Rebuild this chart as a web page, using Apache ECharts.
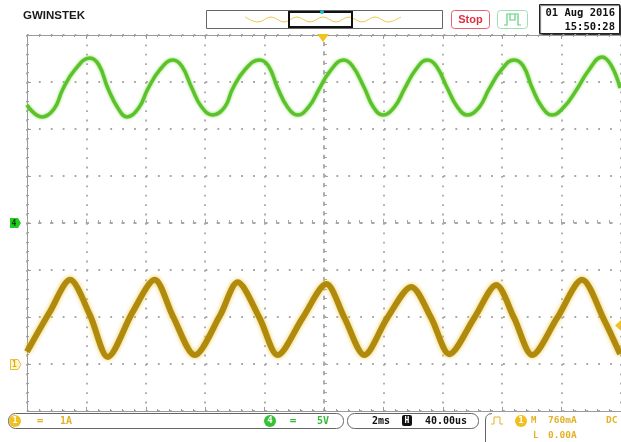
<!DOCTYPE html>
<html><head><meta charset="utf-8">
<script src="https://cdn.jsdelivr.net/npm/echarts@6/dist/echarts.min.js"></script>
<style>html,body{margin:0;padding:0;background:#fff}#c{width:621px;height:442px}</style>
</head><body><div id="c"></div>
<script>
// Channel 4 (green, 5 V/div) - time in ms, value in V
const ch4Time = [-10.00,-9.50,-9.09,-8.79,-8.39,-7.88,-7.58,-7.28,-6.94,-6.64,-6.24,-5.93,-5.53,-5.09,-4.79,-4.45,-4.12,-3.75,-3.34,-3.08,-2.67,-2.17,-1.87,-1.56,-1.23,-0.89,-0.49,-0.18,0.18,0.66,0.96,1.36,1.66,1.97,2.37,2.71,3.08,3.48,3.78,4.15,4.49,4.82,5.23,5.56,5.97,6.40,6.71,7.01,7.34,7.68,8.08,8.52,8.92,9.36,9.66,9.97];
const ch4Volts = [12.55,11.28,12.13,14.26,16.28,17.55,16.81,14.36,12.23,11.28,12.23,14.26,16.28,17.34,16.70,14.36,12.34,11.49,12.34,14.26,16.28,17.34,16.70,14.36,12.34,11.49,12.45,14.15,16.06,17.34,16.70,14.36,12.34,11.49,12.34,14.26,16.28,17.34,16.70,14.36,12.34,11.49,12.34,14.26,16.28,17.34,16.70,14.36,12.34,11.49,12.34,14.26,16.28,17.66,16.81,14.36];
// Channel 1 (yellow, 1 A/div) - time in ms, value in A
const ch1Time = [-10.00,-9.23,-8.55,-7.88,-7.28,-6.44,-5.70,-5.09,-4.35,-3.51,-2.91,-2.17,-1.56,-0.72,0.08,0.69,1.36,2.13,2.94,3.61,4.22,5.06,5.80,6.40,7.01,7.85,8.69,9.43,9.97];
const ch1Amps = [0.26,1.11,1.79,1.04,0.15,1.11,1.79,1.02,0.19,1.02,1.74,0.98,0.19,0.98,1.70,0.98,0.19,0.98,1.64,0.98,0.21,0.98,1.68,0.98,0.19,0.98,1.79,0.94,0.21];
// Scale settings
const timePerDiv = 2;      // ms
const ch4PerDiv = 5;       // V
const ch1PerDiv = 1;       // A

const ch4Data = ch4Time.map((t, i) => [t, ch4Volts[i]]);
const ch1Data = ch1Time.map((t, i) => [t, ch1Amps[i]]);

const gridDot = '#a6a6a6';
const border = '#9a9a9a';
const yel = '#e3b22a';
const grn = '#38b838';
const mono = '"DejaVu Sans Mono", monospace';

function borderAxis(extra) {
  return Object.assign({
    type: 'value',
    axisLine: { show: true, onZero: false, lineStyle: { color: border, width: 1 } },
    axisTick: { show: true, inside: true, length: 4, lineStyle: { color: border } },
    minorTick: { show: true, splitNumber: 5, length: 2, lineStyle: { color: border } },
    axisLabel: { show: false },
    splitLine: { show: false }
  }, extra);
}
function centerAxis(extra, dash) {
  return Object.assign({
    type: 'value',
    axisLine: { show: true, onZero: true, onZeroAxisIndex: 0, lineStyle: { color: gridDot, width: 1.8, type: dash } },
    axisTick: { show: true, inside: true, length: 4, lineStyle: { color: gridDot } },
    minorTick: { show: true, splitNumber: 5, length: 3, lineStyle: { color: gridDot } },
    axisLabel: { show: false },
    splitLine: { show: false }
  }, extra);
}

const chart = echarts.init(document.getElementById('c'), null, { renderer: 'canvas' });
chart.setOption({
  animation: false,
  backgroundColor: '#fff',
  grid: { left: 27, top: 35, width: 594, height: 376, outerBoundsMode: 'none', containLabel: false },
  xAxis: [
    borderAxis({ position: 'bottom', min: -5 * timePerDiv, max: 5 * timePerDiv, interval: timePerDiv,
      splitLine: { show: true, lineStyle: { color: gridDot, width: 1.8, type: [1.8, 7.6] } } }),
    borderAxis({ position: 'top', min: -5 * timePerDiv, max: 5 * timePerDiv, interval: timePerDiv }),
    centerAxis({ position: 'bottom', min: -5 * timePerDiv, max: 5 * timePerDiv, interval: timePerDiv }, [1.8, 10.1])
  ],
  yAxis: [
    borderAxis({ position: 'left', min: -4 * ch4PerDiv, max: 4 * ch4PerDiv, interval: ch4PerDiv,
      splitLine: { show: true, lineStyle: { color: gridDot, width: 1.8, type: [1.8, 10.1] } } }),
    { type: 'value', show: false, min: -1 * ch1PerDiv, max: 7 * ch1PerDiv, interval: ch1PerDiv, splitLine: { show: false } },
    centerAxis({ position: 'left', min: -4 * ch4PerDiv, max: 4 * ch4PerDiv, interval: ch4PerDiv }, [1.8, 7.6])
  ],
  series: [
    { type: 'line', name: 'CH4', xAxisIndex: 0, yAxisIndex: 0, data: ch4Data, showSymbol: false, smooth: 0.45,
      lineStyle: { color: '#5cc22c', width: 3.5, shadowColor: 'rgba(130,215,80,0.95)', shadowBlur: 3 }, z: 5 },
    { type: 'line', name: 'CH1', xAxisIndex: 0, yAxisIndex: 1, data: ch1Data, showSymbol: false, smooth: 0.3,
      lineStyle: { color: '#b08a0c', width: 6, shadowColor: 'rgba(235,200,70,0.95)', shadowBlur: 4 }, z: 6 }
  ],
  graphic: [
    // header
    { type: 'text', style: { text: 'GWINSTEK', x: 23, y: 16, fill: '#1a1a1a', font: 'bold 11.5px "Liberation Sans", Arial', textVerticalAlign: 'middle' } },
    { type: 'rect', shape: { x: 206.5, y: 10.5, width: 236, height: 18 }, style: { fill: '#fff', stroke: '#666', lineWidth: 1 } },
    { type: 'polyline', shape: { points: [[245,17],[258,22],[271,17],[284,22],[297,17],[310,22],[323,17],[336,22],[349,17],[362,22],[375,17],[388,22],[401,17]], smooth: 0.4 }, style: { stroke: '#f0c850', lineWidth: 1, fill: null } },
    { type: 'rect', shape: { x: 289, y: 12, width: 63, height: 15 }, style: { fill: null, stroke: '#111', lineWidth: 2 } },
    { type: 'circle', shape: { cx: 322, cy: 12, r: 2 }, style: { fill: '#22b8d0' } },
    { type: 'rect', shape: { x: 451.5, y: 10.5, width: 38, height: 18, r: 3 }, style: { fill: '#fff', stroke: '#e86070', lineWidth: 1 } },
    { type: 'text', style: { text: 'Stop', x: 470.5, y: 19.5, fill: '#e0303f', font: 'bold 11px "Liberation Sans", Arial', textAlign: 'center', textVerticalAlign: 'middle' } },
    { type: 'rect', shape: { x: 497.5, y: 10.5, width: 30, height: 18, r: 3 }, style: { fill: '#fff', stroke: '#9fe0b0', lineWidth: 1 } },
    { type: 'polyline', shape: { points: [[504,25],[507,25],[507,14],[518,14],[518,25],[521,25]] }, style: { stroke: '#5fcf7f', lineWidth: 1.2, fill: null } },
    { type: 'polyline', shape: { points: [[510,14],[510,20],[515,20],[515,14]] }, style: { stroke: '#5fcf7f', lineWidth: 1.2, fill: null } },
    { type: 'rect', shape: { x: 539.5, y: 4.5, width: 80, height: 29 }, style: { fill: '#fff', stroke: '#222', lineWidth: 1, shadowColor: 'rgba(0,0,0,0.6)', shadowOffsetX: 1, shadowOffsetY: 1, shadowBlur: 1 } },
    { type: 'text', style: { text: '01 Aug 2016', x: 615, y: 13, fill: '#111', font: 'bold 10.5px ' + mono, textAlign: 'right', textVerticalAlign: 'middle' } },
    { type: 'text', style: { text: '15:50:28', x: 615, y: 27, fill: '#111', font: 'bold 10.5px ' + mono, textAlign: 'right', textVerticalAlign: 'middle' } },
    // trigger position marker
    { type: 'polygon', z: 10, shape: { points: [[317,34],[329,34],[323,42]] }, style: { fill: '#f2c320' } },
    // trigger level marker (right)
    { type: 'polygon', shape: { points: [[621,320],[621,331],[615,325.5]] }, style: { fill: '#f2c320' } },
    // channel ground markers
    { type: 'polygon', shape: { points: [[10,218],[18,218],[21,223],[18,228],[10,228]] }, style: { fill: '#22cc22' } },
    { type: 'text', style: { text: '4', x: 14, y: 223.5, fill: '#0a400a', font: 'bold 8px ' + mono, textAlign: 'center', textVerticalAlign: 'middle' } },
    { type: 'polygon', shape: { points: [[10.5,359.5],[18,359.5],[21,364.5],[18,369.5],[10.5,369.5]] }, style: { fill: '#fff6c8', stroke: '#e6c040', lineWidth: 1 } },
    { type: 'text', style: { text: '1', x: 14.5, y: 365, fill: '#d8a820', font: 'bold 8px ' + mono, textAlign: 'center', textVerticalAlign: 'middle' } },
    // bottom bar
    { type: 'rect', shape: { x: 8.5, y: 413.5, width: 335, height: 15, r: 7 }, style: { fill: '#fff', stroke: '#666', lineWidth: 1 } },
    { type: 'circle', shape: { cx: 15, cy: 421, r: 6 }, style: { fill: '#f0c020' } },
    { type: 'text', style: { text: '1', x: 15, y: 421, fill: '#fff', font: 'bold 9px ' + mono, textAlign: 'center', textVerticalAlign: 'middle' } },
    { type: 'text', style: { text: '=', x: 40, y: 421, fill: yel, font: 'bold 11px ' + mono, textAlign: 'center', textVerticalAlign: 'middle' } },
    { type: 'text', style: { text: '1A', x: 60, y: 421, fill: yel, font: 'bold 10px ' + mono, textVerticalAlign: 'middle' } },
    { type: 'circle', shape: { cx: 270, cy: 421, r: 6 }, style: { fill: '#35c035' } },
    { type: 'text', style: { text: '4', x: 270, y: 421, fill: '#fff', font: 'bold 9px ' + mono, textAlign: 'center', textVerticalAlign: 'middle' } },
    { type: 'text', style: { text: '=', x: 293, y: 421, fill: grn, font: 'bold 11px ' + mono, textAlign: 'center', textVerticalAlign: 'middle' } },
    { type: 'text', style: { text: '5V', x: 317, y: 421, fill: grn, font: 'bold 10px ' + mono, textVerticalAlign: 'middle' } },
    { type: 'rect', shape: { x: 347.5, y: 413.5, width: 131, height: 15, r: 7 }, style: { fill: '#fff', stroke: '#666', lineWidth: 1 } },
    { type: 'text', style: { text: '2ms', x: 372, y: 421, fill: '#111', font: 'bold 10px ' + mono, textVerticalAlign: 'middle' } },
    { type: 'rect', shape: { x: 402, y: 415, width: 10, height: 11, r: 2 }, style: { fill: '#111' } },
    { type: 'text', style: { text: 'H', x: 407, y: 421, fill: '#fff', font: 'bold 8px ' + mono, textAlign: 'center', textVerticalAlign: 'middle' } },
    { type: 'text', style: { text: '40.00us', x: 425, y: 421, fill: '#111', font: 'bold 10px ' + mono, textVerticalAlign: 'middle' } },
    { type: 'polyline', shape: { points: [[492,413.5],[488.5,414.2],[486.2,416.5],[485.5,420],[485.5,442]] }, style: { fill: null, stroke: '#666', lineWidth: 1 } },
    { type: 'polyline', shape: { points: [[491,424],[494,424],[494,417],[500,417],[500,424],[503,424]] }, style: { stroke: yel, lineWidth: 1, fill: null } },
    { type: 'circle', shape: { cx: 521, cy: 421, r: 6 }, style: { fill: '#f0c020' } },
    { type: 'text', style: { text: '1', x: 521, y: 421, fill: '#fff', font: 'bold 9px ' + mono, textAlign: 'center', textVerticalAlign: 'middle' } },
    { type: 'text', style: { text: 'M', x: 531, y: 421, fill: yel, font: 'bold 9px ' + mono, textVerticalAlign: 'middle' } },
    { type: 'text', style: { text: '760mA', x: 548, y: 421, fill: yel, font: 'bold 9.5px ' + mono, textVerticalAlign: 'middle' } },
    { type: 'text', style: { text: 'DC', x: 606, y: 421, fill: yel, font: 'bold 9.5px ' + mono, textVerticalAlign: 'middle' } },
    { type: 'text', style: { text: 'L', x: 533, y: 436, fill: yel, font: 'bold 9px ' + mono, textVerticalAlign: 'middle' } },
    { type: 'text', style: { text: '0.00A', x: 548, y: 436, fill: yel, font: 'bold 9.5px ' + mono, textVerticalAlign: 'middle' } }
  ]
});
</script></body></html>
